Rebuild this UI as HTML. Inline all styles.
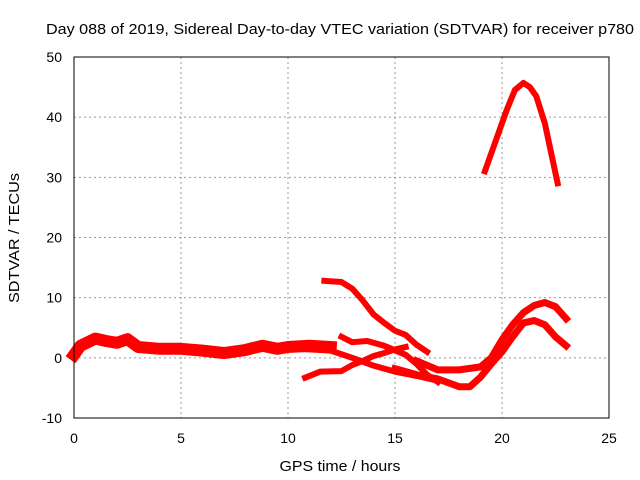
<!DOCTYPE html>
<html><head><meta charset="utf-8"><style>
body{margin:0;background:#fff}
svg{display:block;font-family:"Liberation Sans",sans-serif;font-size:14px}
</style></head><body>
<svg id="chart" width="640" height="480">
<text x="340" y="34" text-anchor="middle" font-size="15" textLength="588" lengthAdjust="spacingAndGlyphs">Day 088 of 2019, Sidereal Day-to-day VTEC variation (SDTVAR) for receiver p780</text>
<text x="340" y="471" text-anchor="middle" font-size="15" textLength="121" lengthAdjust="spacingAndGlyphs">GPS time / hours</text>
<text transform="translate(19,238) rotate(-90)" text-anchor="middle" font-size="15" textLength="130" lengthAdjust="spacingAndGlyphs">SDTVAR / TECUs</text>
<g id="grid"></g><g id="series"></g>
<rect x="74" y="57" width="535" height="361" fill="none" stroke="#000"/>
</svg>
<script>
const xTicks=[0,5,10,15,20,25];
const yTicks=[-10,0,10,20,30,40,50];
const seriesA_x=[0,0.3,1,1.5,2,2.5,3,4,5,6,7,8,8.8,9.5,10,11,12];
const seriesA_y=[0.5,2,3.2,2.8,2.5,3.1,1.8,1.5,1.5,1.2,0.8,1.3,2,1.5,1.8,2,1.8];
const seriesB_x=[11.7,12.5,13,13.5,14,14.5,15,15.5,16,16.5];
const seriesB_y=[12.8,12.6,11.5,9.5,7.2,5.8,4.5,3.8,2.2,1];
const seriesC_x=[10.8,11.5,12.5,13,13.5,14,14.5,15,15.5];
const seriesC_y=[-3.3,-2.3,-2.2,-1.2,-0.5,0.3,0.8,1.4,1.8];
const seriesD_x=[12.5,13,13.7,14.5,15.5,16,16.5,17];
const seriesD_y=[3.5,2.6,2.8,2,0.5,-1,-2.8,-4];
const seriesE_x=[10,11,12,13,14,15,16,17];
const seriesE_y=[1.5,1.4,1.2,0,-1.3,-2.3,-3,-3.8];
const seriesF_x=[16,17,18,19,19.5,20,20.5,21,21.5,22,22.5,23];
const seriesF_y=[-0.5,-2,-2,-1.5,0,3,5.5,7.5,8.7,9.2,8.5,6.5];
const seriesG_x=[15,16,17,18,18.5,19,19.5,20,20.5,21,21.5,22,22.5,23];
const seriesG_y=[-1.8,-2.8,-3.5,-4.8,-4.8,-3.2,-1,1,3.5,5.8,6.2,5.5,3.5,2];
const seriesH_x=[19.2,19.5,19.8,20.2,20.6,21,21.3,21.6,22,22.3,22.6];
const seriesH_y=[31,34,37,41,44.5,45.7,45,43.5,39,34,29];
const xs=v=>74+v*535/25, ys=v=>418-(v+10)*361/60;
const NS="http://www.w3.org/2000/svg";
const grid=document.getElementById('grid'), ser=document.getElementById('series');
xTicks.forEach(t=>{
 if(t>0&&t<25){const l=document.createElementNS(NS,'line');
 l.setAttribute('x1',xs(t));l.setAttribute('x2',xs(t));l.setAttribute('y1',57);l.setAttribute('y2',418);
 l.setAttribute('stroke','#999');l.setAttribute('stroke-dasharray','2,3');
 
 grid.appendChild(l);}
 const tx=document.createElementNS(NS,'text');tx.setAttribute('x',xs(t));tx.setAttribute('y',443);tx.setAttribute('text-anchor','middle');tx.textContent=t;
 
 grid.appendChild(tx);
});
yTicks.forEach(t=>{
 if(t>-10&&t<50){const l=document.createElementNS(NS,'line');
 l.setAttribute('x1',74);l.setAttribute('x2',609);l.setAttribute('y1',ys(t));l.setAttribute('y2',ys(t));
 l.setAttribute('stroke','#999');l.setAttribute('stroke-dasharray','2,3');
 
 grid.appendChild(l);}
 const tx=document.createElementNS(NS,'text');tx.setAttribute('x',62);tx.setAttribute('y',ys(t)+5);tx.setAttribute('text-anchor','end');tx.textContent=t;
 
 grid.appendChild(tx);
});
function draw(xa,ya,name,w){
 const p=document.createElementNS(NS,'polyline');
 p.setAttribute('points',xa.map((x,i)=>xs(x)+','+ys(ya[i])).join(' '));
 p.setAttribute('fill','none');p.setAttribute('stroke','#f00');p.setAttribute('stroke-width',w);
 p.setAttribute('stroke-linejoin','round');p.setAttribute('stroke-linecap','square');
 
 ser.appendChild(p);
}
draw(seriesA_x,seriesA_y,'series-a',12);
draw(seriesB_x,seriesB_y,'series-b',6);
draw(seriesC_x,seriesC_y,'series-c',6);
draw(seriesD_x,seriesD_y,'series-d',6);
draw(seriesE_x,seriesE_y,'series-e',6);
draw(seriesF_x,seriesF_y,'series-f',7);
draw(seriesG_x,seriesG_y,'series-g',7);
draw(seriesH_x,seriesH_y,'series-h',6);
</script>
</body></html>
